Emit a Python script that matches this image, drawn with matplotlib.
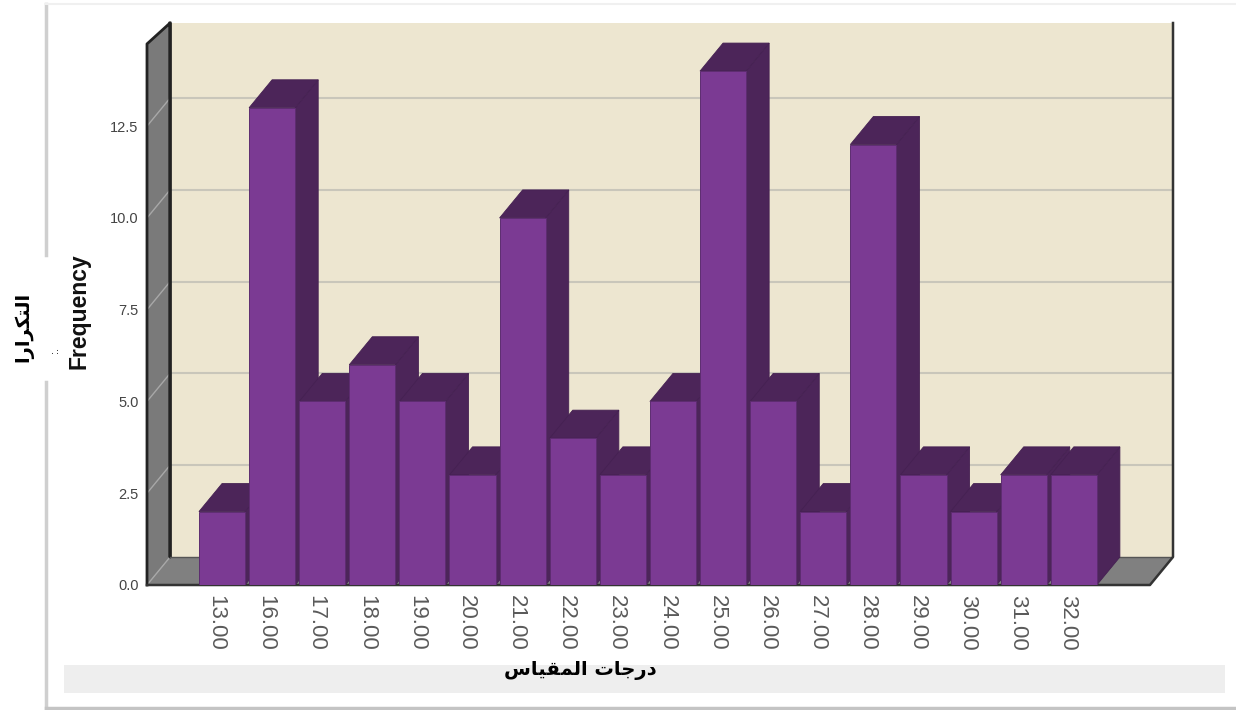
import matplotlib
matplotlib.use('Agg')
import matplotlib.pyplot as plt
from matplotlib.lines import Line2D
from matplotlib.patches import Rectangle
from matplotlib.transforms import ScaledTranslation

categories = ['13.00', '16.00', '17.00', '18.00', '19.00', '20.00', '21.00', '22.00', '23.00',
              '24.00', '25.00', '26.00', '27.00', '28.00', '29.00', '30.00', '31.00', '32.00']
counts = [2, 13, 5, 6, 5, 3, 10, 4, 3, 5, 14, 5, 2, 12, 3, 2, 3, 3]
yticks = [0.0, 2.5, 5.0, 7.5, 10.0, 12.5]

# arabic written in presentation forms, matplotlib does not shape or reverse it
xlabel_ar = '\uFEA9\uFEAD\uFE9F\uFE8E\uFE95 \uFE8D\uFEDF\uFEE4\uFED8\uFEF4\uFE8E\uFEB1'[::-1]
ylabel_ar = '\uFE8D\uFEDF\uFE98\uFEDC\uFEAE\uFE8D\uFEAD\uFE8D'[::-1]

W, H = 1236, 710
fig = plt.figure(figsize=(W / 100, H / 100), dpi=100, facecolor='white')

# page decoration, in pixels of the figure
def px_line(xs, ys, color, lw):
    fig.add_artist(Line2D([x / W for x in xs], [1 - y / H for y in ys], color=color, lw=lw))

px_line([46, 46], [4, 255], '#cfcfcf', 2.5)
px_line([46, 46], [382, 708], '#cfcfcf', 2.5)
px_line([46, 1236], [708, 708], '#c4c4c4', 2.5)
px_line([46, 1236], [4, 4], '#f0f0f0', 1.5)
fig.add_artist(Rectangle((64 / W, 1 - 693 / H), 1161 / W, 28 / H, color='#eeeeee', lw=0))

ax = fig.add_axes([147 / W, 1 - 585 / H, 1026 / W, 562 / H])
ax.set_xlim(-1.497, 18.98)
ax.set_ylim(0, 15.31)
ax.patch.set_visible(False)
for s in ax.spines.values():
    s.set_visible(False)

# depth of the fake 3d box, data units
dx, dy = 0.46, 0.763
bar_w = 0.92
x0, x1 = -1.497, 18.98 - dx
y_front_top = 14.74
y_back_top = 15.31

# back wall, floor, left wall
ax.fill([x0 + dx, x1 + dx, x1 + dx, x0 + dx], [dy, dy, y_back_top, y_back_top],
        color='#ede6d0', lw=0, zorder=1)
ax.fill([x0, x1, x1 + dx, x0 + dx], [0, 0, dy, dy], color='#808080', lw=0, zorder=1)
ax.fill([x0, x0, x0 + dx, x0 + dx], [0, y_front_top, y_back_top, dy], color='#7a7a7a', lw=0, zorder=1)

for t in yticks[1:]:
    ax.plot([x0 + dx, x1 + dx], [t + dy, t + dy], color='#c9c6ba', lw=1.5, zorder=2)
    ax.plot([x0, x0 + dx], [t, t + dy], color='#a8a8a8', lw=1, zorder=2)
ax.plot([x0, x0 + dx], [0, dy], color='#a8a8a8', lw=1, zorder=2)

# box edges
ax.plot([x0, x0, x0 + dx, x0 + dx, x0 + dx], [0, y_front_top, y_back_top, dy, y_back_top],
        color='#222222', lw=2, zorder=3, clip_on=False)
ax.plot([x0 + dx, x1 + dx], [dy, dy], color='#555555', lw=1, zorder=3)
ax.plot([x0, x1, x1 + dx, x1 + dx], [0, 0, dy, y_back_top], color='#333333', lw=1.8, zorder=3, clip_on=False)

# bars left to right so the next one covers the side of the one before
for i, v in enumerate(counts):
    l = i - bar_w / 2
    r = i + bar_w / 2
    z = 4 + i
    ax.fill([r, r + dx, r + dx, r], [0, dy, v + dy, v], facecolor='#4c2559',
            edgecolor='#452152', lw=0.6, zorder=z)
    ax.fill([l, r, r + dx, l + dx], [v, v, v + dy, v + dy], facecolor='#4c2559',
            edgecolor='#452152', lw=0.6, zorder=z)
    ax.bar(i, v, bar_w, color='#7b3a93', edgecolor='#5d2c70', lw=0.7, zorder=z)

ax.set_xticks(range(len(categories)))
ax.set_xticklabels(categories, rotation=270, ha='center', va='top',
                   family='Liberation Sans', fontsize=16, color='#5a5a5a')
ax.set_yticks(yticks)
ax.set_yticklabels([f'{t:.1f}' for t in yticks], family='Liberation Sans', fontsize=10.5,
                   color='#444444')
ax.tick_params(axis='x', length=0, pad=7)
ax.tick_params(axis='y', length=0, pad=6)

# labels sit a little left of the bar centres in the original
# has to come after tick_params, that resets the label transforms
shift = ScaledTranslation(-6 / 100, 0, fig.dpi_scale_trans)
for lab in ax.get_xticklabels():
    lab.set_transform(lab.get_transform() + shift)

fig.text(580 / W, 1 - 670 / H, xlabel_ar, family='DejaVu Sans', fontweight='bold', fontsize=14,
         ha='center', va='center', color='black')
fig.text(79 / W, 1 - 311 / H, 'Frequency', family='Liberation Sans', fontweight='bold',
         fontsize=16.5, rotation=90, ha='center', va='center', color='#111111')
fig.text(24 / W, 1 - 327 / H, ylabel_ar, family='DejaVu Sans', fontweight='bold', fontsize=14,
         rotation=90, ha='center', va='center', color='black')
fig.text(55 / W, 1 - 350 / H, ':.', family='Liberation Sans', fontsize=8, rotation=90,
         ha='center', va='center', color='black')

fig.savefig('out.png', dpi=100)
